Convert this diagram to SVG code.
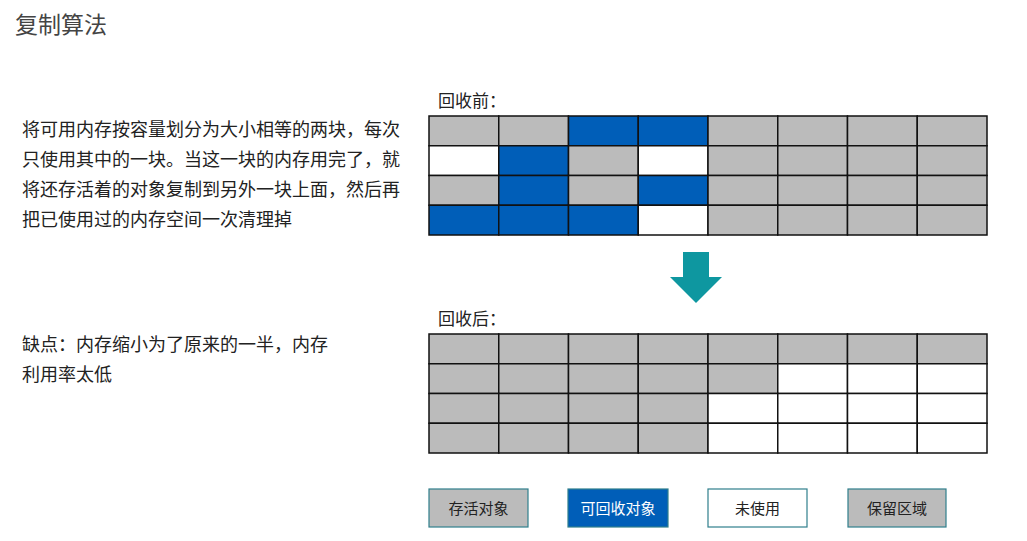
<svg xmlns="http://www.w3.org/2000/svg" width="1027" height="541" viewBox="0 0 1027 541">
<style>
text{font-family:"Noto Sans CJK SC","Noto Sans",sans-serif;fill:#222}
.t{font-size:23px;fill:#444}
.b{font-size:18px}
.h{font-size:17px}
.g{fill:#BBBBBB}
.u{fill:#005EB8}
.w{fill:#FFFFFF}
.c rect{stroke:#111;stroke-width:1.5}
.lg rect{stroke:#2F7F8C;stroke-width:1.2}
.lt{font-size:15px;text-anchor:middle}
</style>
<rect width="1027" height="541" fill="#FFFFFF"/>
<text class="t" x="15" y="33">复制算法</text>
<g id="desc">
<text class="b" x="22" y="136">将可用内存按容量划分为大小相等的两块，每次</text>
<text class="b" x="22" y="166">只使用其中的一块。当这一块的内存用完了，就</text>
<text class="b" x="22" y="196">将还存活着的对象复制到另外一块上面，然后再</text>
<text class="b" x="22" y="226">把已使用过的内存空间一次清理掉</text>
</g>
<g id="cons">
<text class="b" x="22" y="351">缺点：内存缩小为了原来的一半，内存</text>
<text class="b" x="22" y="381">利用率太低</text>
</g>
<g id="before">
<text class="h" x="438" y="107">回收前：</text>
<g class="c">
<rect class="g" x="429" y="116" width="69.75" height="29.75"/>
<rect class="g" x="498.75" y="116" width="69.75" height="29.75"/>
<rect class="u" x="568.5" y="116" width="69.75" height="29.75"/>
<rect class="u" x="638.25" y="116" width="69.75" height="29.75"/>
<rect class="g" x="708" y="116" width="69.75" height="29.75"/>
<rect class="g" x="777.75" y="116" width="69.75" height="29.75"/>
<rect class="g" x="847.5" y="116" width="69.75" height="29.75"/>
<rect class="g" x="917.25" y="116" width="69.75" height="29.75"/>
<rect class="w" x="429" y="145.75" width="69.75" height="29.75"/>
<rect class="u" x="498.75" y="145.75" width="69.75" height="29.75"/>
<rect class="g" x="568.5" y="145.75" width="69.75" height="29.75"/>
<rect class="w" x="638.25" y="145.75" width="69.75" height="29.75"/>
<rect class="g" x="708" y="145.75" width="69.75" height="29.75"/>
<rect class="g" x="777.75" y="145.75" width="69.75" height="29.75"/>
<rect class="g" x="847.5" y="145.75" width="69.75" height="29.75"/>
<rect class="g" x="917.25" y="145.75" width="69.75" height="29.75"/>
<rect class="g" x="429" y="175.5" width="69.75" height="29.75"/>
<rect class="u" x="498.75" y="175.5" width="69.75" height="29.75"/>
<rect class="g" x="568.5" y="175.5" width="69.75" height="29.75"/>
<rect class="u" x="638.25" y="175.5" width="69.75" height="29.75"/>
<rect class="g" x="708" y="175.5" width="69.75" height="29.75"/>
<rect class="g" x="777.75" y="175.5" width="69.75" height="29.75"/>
<rect class="g" x="847.5" y="175.5" width="69.75" height="29.75"/>
<rect class="g" x="917.25" y="175.5" width="69.75" height="29.75"/>
<rect class="u" x="429" y="205.25" width="69.75" height="29.75"/>
<rect class="u" x="498.75" y="205.25" width="69.75" height="29.75"/>
<rect class="u" x="568.5" y="205.25" width="69.75" height="29.75"/>
<rect class="w" x="638.25" y="205.25" width="69.75" height="29.75"/>
<rect class="g" x="708" y="205.25" width="69.75" height="29.75"/>
<rect class="g" x="777.75" y="205.25" width="69.75" height="29.75"/>
<rect class="g" x="847.5" y="205.25" width="69.75" height="29.75"/>
<rect class="g" x="917.25" y="205.25" width="69.75" height="29.75"/>
</g>
</g>
<g id="arrow">
<polygon points="683,252 709,252 709,277 722,277 696,303 670,277 683,277" fill="#0E97A0"/>
</g>
<g id="after">
<text class="h" x="438" y="325">回收后：</text>
<g class="c">
<rect class="g" x="429" y="334" width="69.75" height="29.75"/>
<rect class="g" x="498.75" y="334" width="69.75" height="29.75"/>
<rect class="g" x="568.5" y="334" width="69.75" height="29.75"/>
<rect class="g" x="638.25" y="334" width="69.75" height="29.75"/>
<rect class="g" x="708" y="334" width="69.75" height="29.75"/>
<rect class="g" x="777.75" y="334" width="69.75" height="29.75"/>
<rect class="g" x="847.5" y="334" width="69.75" height="29.75"/>
<rect class="g" x="917.25" y="334" width="69.75" height="29.75"/>
<rect class="g" x="429" y="363.75" width="69.75" height="29.75"/>
<rect class="g" x="498.75" y="363.75" width="69.75" height="29.75"/>
<rect class="g" x="568.5" y="363.75" width="69.75" height="29.75"/>
<rect class="g" x="638.25" y="363.75" width="69.75" height="29.75"/>
<rect class="g" x="708" y="363.75" width="69.75" height="29.75"/>
<rect class="w" x="777.75" y="363.75" width="69.75" height="29.75"/>
<rect class="w" x="847.5" y="363.75" width="69.75" height="29.75"/>
<rect class="w" x="917.25" y="363.75" width="69.75" height="29.75"/>
<rect class="g" x="429" y="393.5" width="69.75" height="29.75"/>
<rect class="g" x="498.75" y="393.5" width="69.75" height="29.75"/>
<rect class="g" x="568.5" y="393.5" width="69.75" height="29.75"/>
<rect class="g" x="638.25" y="393.5" width="69.75" height="29.75"/>
<rect class="w" x="708" y="393.5" width="69.75" height="29.75"/>
<rect class="w" x="777.75" y="393.5" width="69.75" height="29.75"/>
<rect class="w" x="847.5" y="393.5" width="69.75" height="29.75"/>
<rect class="w" x="917.25" y="393.5" width="69.75" height="29.75"/>
<rect class="g" x="429" y="423.25" width="69.75" height="29.75"/>
<rect class="g" x="498.75" y="423.25" width="69.75" height="29.75"/>
<rect class="g" x="568.5" y="423.25" width="69.75" height="29.75"/>
<rect class="g" x="638.25" y="423.25" width="69.75" height="29.75"/>
<rect class="w" x="708" y="423.25" width="69.75" height="29.75"/>
<rect class="w" x="777.75" y="423.25" width="69.75" height="29.75"/>
<rect class="w" x="847.5" y="423.25" width="69.75" height="29.75"/>
<rect class="w" x="917.25" y="423.25" width="69.75" height="29.75"/>
</g>
</g>
<g id="legend" class="lg">
<g id="legend-live"><rect class="g" x="429" y="489" width="99" height="38"/><text class="lt" x="478.5" y="513.5">存活对象</text></g>
<g id="legend-reclaim"><rect class="u" x="568" y="489" width="100" height="38"/><text class="lt" x="618" y="513.5" style="fill:#FFFFFF">可回收对象</text></g>
<g id="legend-unused"><rect class="w" x="708" y="489" width="99" height="38"/><text class="lt" x="757.5" y="513.5">未使用</text></g>
<g id="legend-reserved"><rect class="g" x="848" y="489" width="98" height="38"/><text class="lt" x="897" y="513.5">保留区域</text></g>
</g>
</svg>
